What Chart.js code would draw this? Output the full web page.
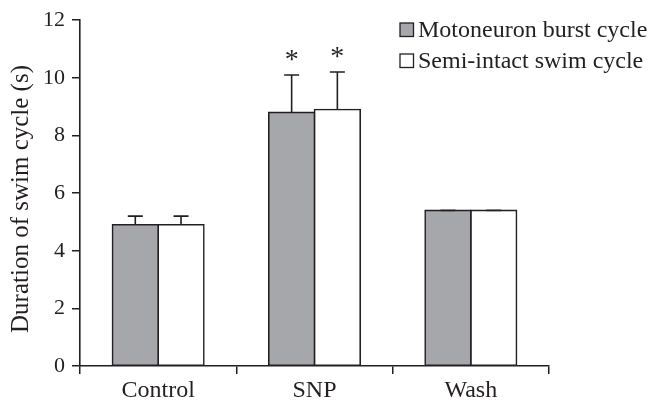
<!DOCTYPE html>
<html>
<head>
<meta charset="utf-8">
<script src="https://cdn.jsdelivr.net/npm/chart.js@4.4.1/dist/chart.umd.min.js"></script>
<style>
  html, body { margin: 0; padding: 0; background: #ffffff; }
  #wrap { width: 649px; height: 402px; position: relative; }
  #probe { position: absolute; left: -1000px; top: 0; font-family: "Liberation Serif"; font-size: 24px; }
</style>
</head>
<body>
<div id="probe">Motoneuron 0123456789 *</div>
<div id="wrap"><canvas id="c"></canvas></div>
<script>
// ---- data ----
const categories = ['Control', 'SNP', 'Wash'];
const seriesNames = ['Motoneuron burst cycle', 'Semi-intact swim cycle'];
const motoneuronValues = [4.9, 8.8, 5.4];
const motoneuronErrors = [0.3, 1.3, 0];
const semiIntactValues = [4.9, 8.9, 5.4];
const semiIntactErrors = [0.3, 1.3, 0];
const significance = ['', '*', ''];
const yTicks = [0, 2, 4, 6, 8, 10, 12];
const yTitle = 'Duration of swim cycle (s)';

const FONT = '"Liberation Serif"';
const INK = '#231f20';
const GRAY = '#a6a7ab';
const errorsByDataset = [motoneuronErrors, semiIntactErrors];

const extrasPlugin = {
  id: 'extras',
  afterDatasetsDraw(chart) {
    const ctx = chart.ctx;
    const y = chart.scales.y;
    ctx.save();
    ctx.strokeStyle = INK;
    ctx.lineWidth = 1.6;
    chart.data.datasets.forEach((ds, di) => {
      const meta = chart.getDatasetMeta(di);
      meta.data.forEach((bar, i) => {
        const err = errorsByDataset[di][i];
        const topPx = y.getPixelForValue(ds.data[i] + err);
        ctx.beginPath();
        ctx.moveTo(bar.x, bar.y);
        ctx.lineTo(bar.x, topPx);
        ctx.moveTo(bar.x - 7.5, topPx);
        ctx.lineTo(bar.x + 7.5, topPx);
        ctx.stroke();
        if (significance[i]) {
          ctx.fillStyle = INK;
          ctx.font = '28px ' + FONT;
          ctx.textAlign = 'center';
          ctx.textBaseline = 'alphabetic';
          const m = ctx.measureText(significance[i]);
          const cy = topPx - 19.5;
          const base = cy + (m.actualBoundingBoxAscent - m.actualBoundingBoxDescent) / 2;
          ctx.fillText(significance[i], bar.x, base);
        }
      });
    });
    ctx.restore();
  },
  afterDraw(chart) {
    const ctx = chart.ctx;
    ctx.save();
    ctx.fillStyle = INK;
    ctx.font = '25px ' + FONT;
    ctx.translate(21, 199);
    ctx.rotate(-Math.PI / 2);
    ctx.textAlign = 'center';
    ctx.textBaseline = 'middle';
    ctx.fillText(yTitle, 0, 0);
    ctx.restore();

    ctx.save();
    const fills = [GRAY, '#ffffff'];
    const rows = [30, 61];
    ctx.font = '24px ' + FONT;
    ctx.textAlign = 'left';
    ctx.textBaseline = 'alphabetic';
    seriesNames.forEach((name, k) => {
      const cy = rows[k];
      ctx.fillStyle = fills[k];
      ctx.fillRect(400, cy - 7, 13.5, 13.5);
      ctx.strokeStyle = INK;
      ctx.lineWidth = 1.3;
      ctx.strokeRect(400, cy - 7, 13.5, 13.5);
      ctx.fillStyle = INK;
      ctx.fillText(name, 418, cy + 7);
    });
    ctx.restore();
  }
};

function draw() {
  new Chart(document.getElementById('c'), {
    type: 'bar',
    data: {
      labels: categories,
      datasets: [
        {
          label: seriesNames[0],
          data: motoneuronValues,
          backgroundColor: GRAY,
          borderColor: INK,
          borderWidth: 1.6,
          borderSkipped: false,
          inflateAmount: 0.8,
          categoryPercentage: 0.585,
          barPercentage: 1.0
        },
        {
          label: seriesNames[1],
          data: semiIntactValues,
          backgroundColor: '#ffffff',
          borderColor: INK,
          borderWidth: 1.6,
          borderSkipped: false,
          inflateAmount: 0.8,
          categoryPercentage: 0.585,
          barPercentage: 1.0
        }
      ]
    },
    options: {
      responsive: true,
      maintainAspectRatio: false,
      animation: false,
      devicePixelRatio: 1,
      layout: { padding: { left: 0, top: 17, right: 100, bottom: 0 } },
      plugins: {
        legend: { display: false },
        tooltip: { enabled: false },
        title: { display: false }
      },
      scales: {
        x: {
          grid: { display: true, drawOnChartArea: false, drawTicks: true, tickLength: 8, color: INK, lineWidth: 1.5, offset: true },
          border: { display: true, color: INK, width: 1.6 },
          ticks: { color: INK, font: { family: FONT, size: 24 }, padding: 2 },
          afterFit(s) { s.height = 402 - 366; }
        },
        y: {
          min: 0,
          max: 12,
          afterBuildTicks(s) { s.ticks = yTicks.map(v => ({ value: v })); },
          grid: { display: true, drawOnChartArea: false, drawTicks: true, tickLength: 8, color: INK, lineWidth: 1.5 },
          border: { display: true, color: INK, width: 1.6 },
          ticks: { color: INK, font: { family: FONT, size: 22 }, padding: 7 },
          afterFit(s) { s.width = 80; }
        }
      }
    },
    plugins: [extrasPlugin]
  });
}

Promise.all([
  document.fonts.load('24px "Liberation Serif"'),
  document.fonts.load('22px "Liberation Serif"')
]).then(draw, draw);
</script>
</body>
</html>
